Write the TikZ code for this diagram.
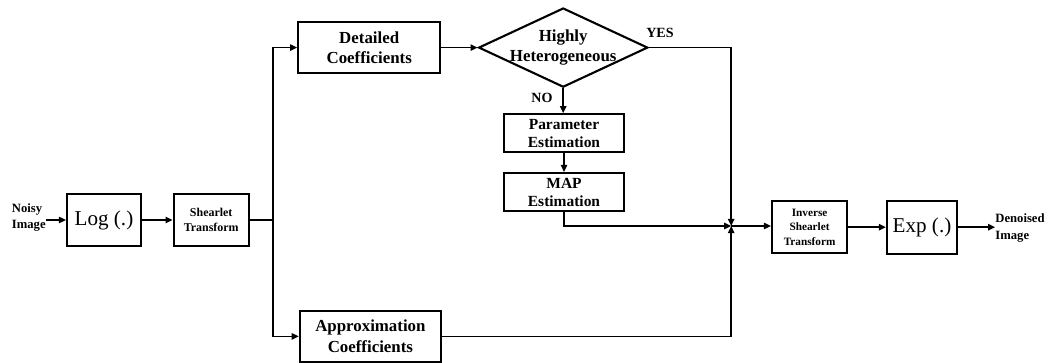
\documentclass[tikz,border=0pt]{standalone}
\usepackage{fontspec}
\setmainfont{Liberation Serif}
\usetikzlibrary{shapes.geometric,arrows.meta}

\begin{document}
\begin{tikzpicture}[
  y=-1cm,
  box/.style={draw, line width=1.5pt, inner sep=0pt, align=center,
    font=\bfseries\fontsize{12}{14.5}\selectfont},
  smallbox/.style={box, font=\bfseries\fontsize{8.5}{10.5}\selectfont},
  invbox/.style={box, font=\bfseries\fontsize{8}{10.4}\selectfont},
  midbox/.style={box, font=\bfseries\fontsize{11}{12.8}\selectfont},
  funcbox/.style={box, font=\fontsize{15}{18}\selectfont},
  decision/.style={draw, line width=1.5pt, diamond, inner sep=0pt},
  dtext/.style={inner sep=0pt, align=center, font=\bfseries\fontsize{12}{14.8}\selectfont},
  io/.style={inner sep=0pt, align=left, font=\bfseries\fontsize{9}{11.5}\selectfont},
  lbl/.style={inner sep=0pt, font=\bfseries\fontsize{10}{12}\selectfont},
  conn/.style={draw, line width=1.1pt},
  arr/.style={conn, -{Triangle[length=5pt,width=4.5pt]}}
]
\useasboundingbox (0,0) rectangle (26.3,9.075);

% main chain
\node[io] (noisy) at (0.72,5.43) {Noisy\\Image};
\node[funcbox, minimum width=1.85cm, minimum height=1.28cm] (log) at (2.6,5.5) {Log (.)};
\node[smallbox, minimum width=1.88cm, minimum height=1.3cm] (shear) at (5.28,5.5) {Shearlet\\Transform};

% detail branch
\node[box, minimum width=3.55cm, minimum height=1.28cm] (det) at (9.23,1.19) {Detailed\\Coefficients};
\node[decision, minimum width=4.23cm, minimum height=1.98cm] (hh) at (14.08,1.19) {};
\node[dtext] (hhtext) at (hh.center) {Highly\\Heterogeneous};
\node[midbox, minimum width=2.98cm, minimum height=0.95cm] (param) at (14.1,3.33) {Parameter\\Estimation};
\node[midbox, minimum width=2.98cm, minimum height=0.95cm] (map) at (14.1,4.8) {MAP\\Estimation};

% approximation branch
\node[box, minimum width=3.53cm, minimum height=1.28cm] (approx) at (9.26,8.41) {Approximation\\Coefficients};

% output chain
\coordinate (junc) at (18.28,5.65);
\node[invbox, minimum width=1.88cm, minimum height=1.3cm] (inv) at (20.24,5.68) {Inverse\\Shearlet\\Transform};
\node[funcbox, minimum width=1.75cm, minimum height=1.33cm] (exp) at (23.05,5.68) {Exp (.)};
\node[io] (denoised) at (25.5,5.7) {Denoised\\Image};

% labels
\node[lbl] (yes) at (16.5,0.83) {YES};
\node[lbl] (no) at (13.55,2.45) {NO};

% split points
\coordinate (bt) at (6.83,1.19);
\coordinate (bb) at (6.83,8.41);

% connectors
\draw[arr] (noisy.east |- log.west) -- (log.west);
\draw[arr] (log) -- (shear);
\draw[arr] (shear.east) -| (bt) -- (det.west);
\draw[arr] (shear.east) -| (bb) -- (approx.west);
\draw[arr] (det) -- (hh.west);
\draw[arr] (hh.east) -| (junc);
\draw[arr] (hh.south) -- (hh.south |- param.north);
\draw[arr] (param) -- (map);
\draw[arr] (map.south) |- (junc);
\draw[arr] (approx.east) -| (junc);
\draw[arr] (junc) -- (junc -| inv.west);
\draw[arr] (inv) -- (exp);
\draw[arr] (exp) -- (denoised.west |- exp.east);
\end{tikzpicture}
\end{document}
